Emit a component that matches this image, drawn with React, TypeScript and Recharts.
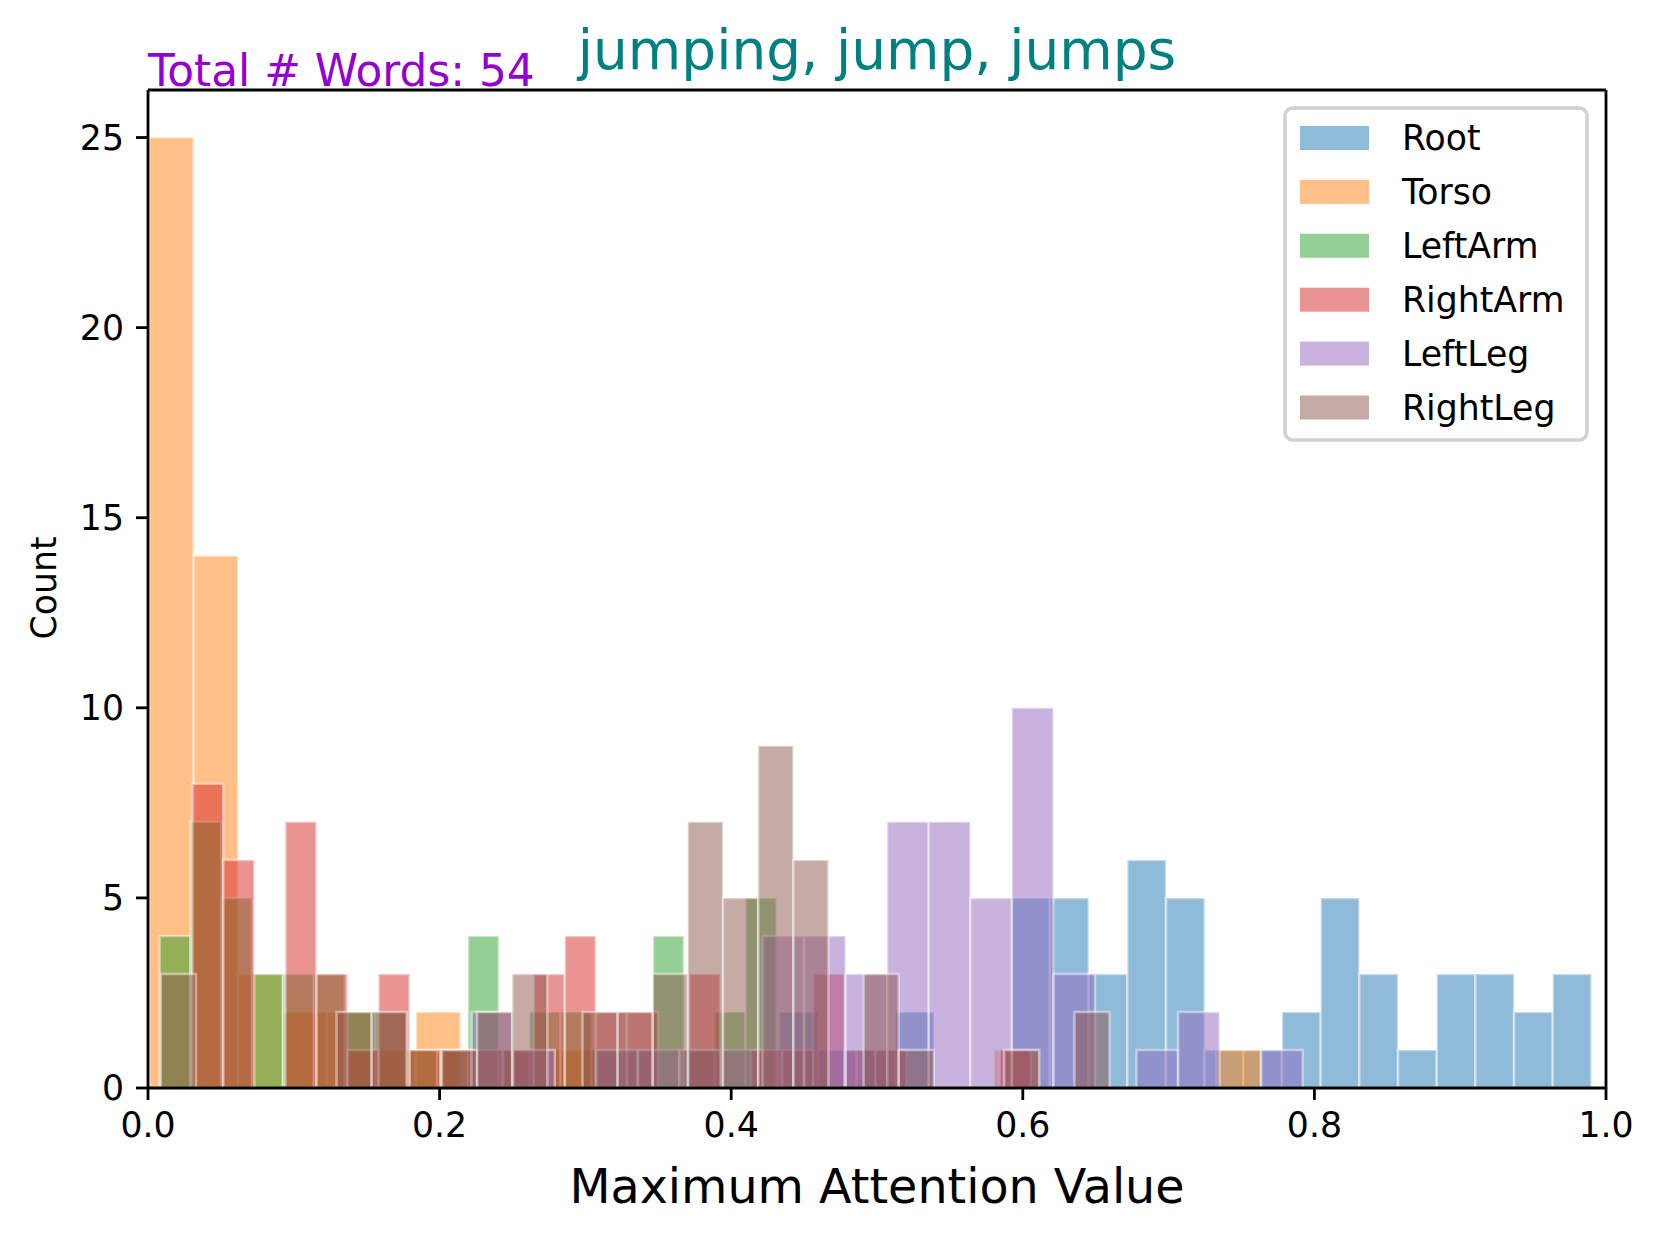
import React from "react";
import { ComposedChart, XAxis, YAxis, ReferenceArea, ReferenceLine } from "recharts";

const xTicks = [0, 0.2, 0.4, 0.6, 0.8, 1.0];
const yTicks = [0, 5, 10, 15, 20, 25];
const yMax = 26.25;

// each histogram: first and last bin edge, then the count in every bin
const rootRange = [0.433, 0.99];
const rootCounts = [2, 1, 1, 2, 0, 0, 5, 5, 3, 6, 5, 1, 1, 2, 5, 3, 1, 3, 3, 2, 3];

const torsoRange = [0.0008, 0.7633];
const torsoCounts = [25, 14, 3, 2, 2, 1, 2, 0, 1, 1, 0, 0, 1, 0, 0, 0, 0, 0, 0, 1, 0, 0, 0, 0, 1];

const leftArmRange = [0.008, 0.431];
const leftArmCounts = [4, 7, 5, 3, 3, 3, 2, 2, 1, 1, 4, 1, 2, 2, 1, 1, 4, 1, 2, 5];

const rightArmRange = [0.0303, 0.6054];
const rightArmCounts = [8, 6, 0, 7, 3, 1, 3, 1, 1, 1, 1, 3, 4, 2, 2, 0, 3, 0, 1, 1, 3, 1, 1, 0, 0, 0, 1];

const leftLegRange = [0.222, 0.792];
const leftLegCounts = [2, 1, 0, 1, 1, 1, 1, 4, 4, 3, 7, 7, 5, 10, 3, 0, 1, 2, 0, 1];

const rightLegRange = [0.0088, 0.6595];
const rightLegCounts = [3, 0, 0, 0, 0, 2, 2, 0, 1, 2, 3, 0, 2, 2, 3, 7, 5, 9, 6, 0, 3, 1, 0, 0, 1, 0, 2];

const series = [
  { name: "Root", color: "#1f77b4", range: rootRange, counts: rootCounts },
  { name: "Torso", color: "#ff7f0e", range: torsoRange, counts: torsoCounts },
  { name: "LeftArm", color: "#2ca02c", range: leftArmRange, counts: leftArmCounts },
  { name: "RightArm", color: "#d62728", range: rightArmRange, counts: rightArmCounts },
  { name: "LeftLeg", color: "#9467bd", range: leftLegRange, counts: leftLegCounts },
  { name: "RightLeg", color: "#8c564b", range: rightLegRange, counts: rightLegCounts },
];

const FONT = "DejaVu Sans, sans-serif";

function bins(range: number[], counts: number[]) {
  const [lo, hi] = range;
  const w = (hi - lo) / counts.length;
  return counts.map((c, i) => ({ x0: lo + i * w, x1: lo + (i + 1) * w, count: c }));
}

export default function App() {
  const tickStyle = { fill: "#000", fontSize: 34.7, fontFamily: FONT };
  return (
    <div style={{ position: "relative", width: 1662, height: 1237, background: "#fff" }}>
      <style>{"body{margin:0}"}</style>
      <ComposedChart
        width={1662}
        height={1237}
        data={xTicks.map((x) => ({ x }))}
        margin={{ top: 90, right: 56, left: 0, bottom: 0 }}
      >
        <XAxis
          type="number"
          dataKey="x"
          domain={[0, 1]}
          ticks={xTicks}
          allowDataOverflow
          tickFormatter={(v: number) => v.toFixed(1)}
          height={149}
          tick={tickStyle}
          tickSize={12}
          tickMargin={12}
          axisLine={{ stroke: "#000", strokeWidth: 2.8 }}
          tickLine={{ stroke: "#000", strokeWidth: 2.8 }}
        />
        <YAxis
          type="number"
          domain={[0, yMax]}
          ticks={yTicks}
          allowDataOverflow
          width={148}
          tick={tickStyle}
          tickSize={12}
          tickMargin={12}
          axisLine={{ stroke: "#000", strokeWidth: 2.8 }}
          tickLine={{ stroke: "#000", strokeWidth: 2.8 }}
        />
        {series.map((s) =>
          bins(s.range, s.counts)
            .filter((b) => b.count > 0)
            .map((b, i) => (
              <ReferenceArea
                key={s.name + i}
                x1={b.x0}
                x2={b.x1}
                y1={0}
                y2={b.count}
                fill={s.color}
                fillOpacity={0.5}
                stroke="#fff"
                strokeOpacity={0.45}
                strokeWidth={2.5}
                ifOverflow="visible"
              />
            ))
        )}
        <ReferenceLine y={yMax} stroke="#000" strokeWidth={2.8} ifOverflow="visible" />
        <ReferenceLine x={1} stroke="#000" strokeWidth={2.8} ifOverflow="visible" />
      </ComposedChart>
      <svg
        width={1662}
        height={1237}
        style={{ position: "absolute", left: 0, top: 0, pointerEvents: "none" }}
        fontFamily={FONT}
      >
        <text x={877} y={69} textAnchor="middle" fill="#008080" fontSize={54.9}>
          jumping, jump, jumps
        </text>
        <text x={148} y={86} fill="#9400D3" fontSize={43.8}>
          Total # Words: 54
        </text>
        <text x={877} y={1203} textAnchor="middle" fill="#000" fontSize={47.6}>
          Maximum Attention Value
        </text>
        <text
          x={44}
          y={588}
          textAnchor="middle"
          dominantBaseline="central"
          fill="#000"
          fontSize={34.7}
          transform="rotate(-90, 44, 588)"
        >
          Count
        </text>
        <rect x={1285} y={108} width={302} height={332} rx={8} fill="#fff" fillOpacity={0.8} stroke="#d0d0d0" strokeWidth={3.5} />
        {series.map((s, i) => {
          const cy = 138 + i * 53.9;
          return (
            <g key={s.name}>
              <rect x={1300} y={cy - 12} width={69} height={24} fill={s.color} fillOpacity={0.5} />
              <text x={1402} y={cy} dominantBaseline="central" fontSize={34.7} fill="#000">
                {s.name}
              </text>
            </g>
          );
        })}
      </svg>
    </div>
  );
}
